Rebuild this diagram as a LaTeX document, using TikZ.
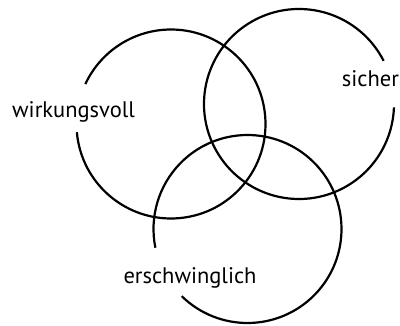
\documentclass[tikz,border=0pt]{standalone}
\usepackage{fontspec}
\setmainfont{PT Sans}
\begin{document}
\begin{tikzpicture}[x=1pt,y=1pt,
  ring/.style={line width=2.2pt,black},
  lbl/.style={inner sep=0pt,anchor=base west,font=\fontsize{22.5}{27}\selectfont}]
\useasboundingbox (0,0) rectangle (400,325);
\coordinate (cw) at (171,201);
\coordinate (cs) at (299,221);
\coordinate (ce) at (247.5,96);
\draw[ring] ([shift={(185:94.5)}]cw) arc[start angle=185,end angle=515,radius=94.5];
\draw[ring] ([shift={(27:95)}]cs) arc[start angle=27,end angle=358,radius=95];
\draw[ring] ([shift={(225.6:94)}]ce) arc[start angle=225.6,end angle=551.5,radius=94];
\node[lbl] (w) at (12,325-117.3) {wirkungsvoll};
\node[lbl] (s) at (341.7,325-86) {sicher};
\node[lbl] (e) at (123.3,325-283.3) {erschwinglich};
\end{tikzpicture}
\end{document}
